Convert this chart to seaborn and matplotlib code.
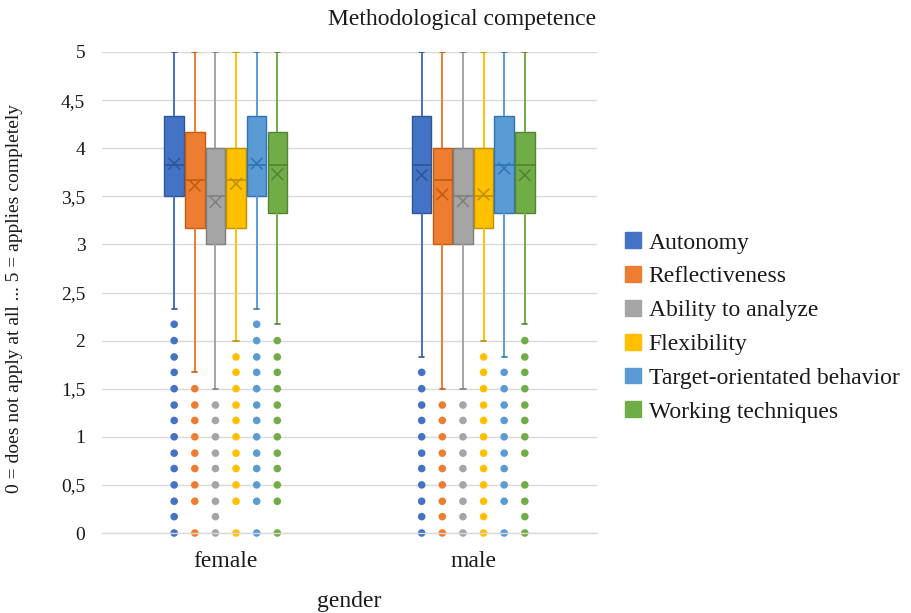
import numpy as np
import pandas as pd
import matplotlib
matplotlib.use("Agg")
import matplotlib.pyplot as plt
import seaborn as sns
from matplotlib.patches import Patch

# ---------------- data ----------------
genders = ["female", "male"]
competences = ["Autonomy", "Reflectiveness", "Ability to analyze", "Flexibility",
               "Target-orientated behavior", "Working techniques"]
colors = ["#4472C4", "#ED7D31", "#A5A5A5", "#FFC000", "#5B9BD5", "#70AD47"]
darks = ["#2F5597", "#C55A11", "#7F7F7F", "#BF9000", "#2E75B6", "#548235"]

# five-number summaries per competence (lower whisker, Q1, median, Q3, upper whisker)
female_lower = [2.33, 1.67, 1.5, 2.0, 2.33, 2.17]
female_q1 = [3.5, 3.17, 3.0, 3.17, 3.5, 3.33]
female_median = [3.83, 3.67, 3.5, 3.67, 3.83, 3.83]
female_q3 = [4.33, 4.17, 4.0, 4.0, 4.33, 4.17]
female_upper = [5, 5, 5, 5, 5, 5]
female_mean = [3.84, 3.61, 3.44, 3.63, 3.84, 3.73]

male_lower = [1.83, 1.5, 1.5, 2.0, 1.83, 2.17]
male_q1 = [3.33, 3.0, 3.0, 3.17, 3.33, 3.33]
male_median = [3.83, 3.67, 3.5, 3.5, 3.83, 3.83]
male_q3 = [4.33, 4.0, 4.0, 4.0, 4.33, 4.17]
male_upper = [5, 5, 5, 5, 5, 5]
male_mean = [3.72, 3.52, 3.45, 3.52, 3.79, 3.72]

female_outliers = [
    [2.17, 2.0, 1.83, 1.67, 1.5, 1.33, 1.17, 1.0, 0.83, 0.67, 0.5, 0.33, 0.17, 0.0],
    [1.5, 1.33, 1.17, 1.0, 0.83, 0.67, 0.5, 0.33, 0.0],
    [1.33, 1.17, 1.0, 0.83, 0.67, 0.5, 0.33, 0.17, 0.0],
    [1.83, 1.67, 1.5, 1.33, 1.17, 1.0, 0.83, 0.67, 0.5, 0.33, 0.0],
    [2.17, 2.0, 1.83, 1.67, 1.5, 1.33, 1.17, 1.0, 0.83, 0.67, 0.5, 0.33, 0.0],
    [2.0, 1.83, 1.67, 1.5, 1.33, 1.17, 1.0, 0.83, 0.67, 0.5, 0.33, 0.0],
]
male_outliers = [
    [1.67, 1.5, 1.33, 1.17, 1.0, 0.83, 0.67, 0.5, 0.33, 0.17, 0.0],
    [1.33, 1.17, 1.0, 0.83, 0.67, 0.5, 0.33, 0.17, 0.0],
    [1.33, 1.17, 1.0, 0.83, 0.67, 0.5, 0.33, 0.17, 0.0],
    [1.83, 1.67, 1.5, 1.33, 1.17, 1.0, 0.83, 0.67, 0.5, 0.33, 0.17, 0.0],
    [1.67, 1.5, 1.33, 1.17, 1.0, 0.83, 0.67, 0.5, 0.33, 0.0],
    [2.0, 1.83, 1.67, 1.5, 1.33, 1.17, 1.0, 0.83, 0.5, 0.33, 0.17, 0.0],
]

y_ticks = [0, 0.5, 1, 1.5, 2, 2.5, 3, 3.5, 4, 4.5, 5]
y_ticklabels = ["0", "0,5", "1", "1,5", "2", "2,5", "3", "3,5", "4", "4,5", "5"]

# ---------------- tables ----------------
summ = {"female": [female_lower, female_q1, female_median, female_q3, female_upper],
        "male": [male_lower, male_q1, male_median, male_q3, male_upper]}
rows = []
for g in genders:
    for j, c in enumerate(competences):
        for arr in summ[g]:
            rows.append({"gender": g, "competence": c, "value": arr[j]})
box_df = pd.DataFrame(rows)

BOX_W = 0.5
n_h = len(competences)


def dodge_pos(gi, j):
    return gi + (j - (n_h - 1) / 2) * BOX_W / n_h


orows = []
for gi, (g, outs) in enumerate(zip(genders, [female_outliers, male_outliers])):
    for j, c in enumerate(competences):
        for v in outs[j]:
            orows.append({"pos": dodge_pos(gi, j), "competence": c, "value": v})
out_df = pd.DataFrame(orows)

mrows = []
for gi, (g, means) in enumerate(zip(genders, [female_mean, male_mean])):
    for j, c in enumerate(competences):
        mrows.append({"pos": dodge_pos(gi, j), "competence": c, "value": means[j]})
mean_df = pd.DataFrame(mrows)

# ---------------- style ----------------
sns.set_style("white")
plt.rcParams["font.family"] = ["Liberation Serif", "DejaVu Serif"]
TXT = "#1a1a1a"

fig = plt.figure(figsize=(9.11, 6.13), dpi=100)
ax = fig.add_axes([102 / 911, 1 - 533 / 613, 495 / 911, 481 / 613])

pal = dict(zip(competences, colors))
pal_dark = dict(zip(competences, darks))

for j, c in enumerate(competences):
    sub = box_df[box_df["competence"] == c]
    sns.boxplot(data=sub, x="gender", y="value", hue="competence",
                order=genders, hue_order=competences, palette=pal,
                saturation=1, dodge=True, width=BOX_W, gap=0.06, whis=(0, 100),
                showfliers=False, linecolor=darks[j], linewidth=1.0,
                whiskerprops=dict(color=colors[j], linewidth=1.4),
                capprops=dict(color=darks[j], linewidth=1.2),
                medianprops=dict(color=darks[j], linewidth=1.2),
                legend=False, ax=ax)

# shorten caps
cw = BOX_W / n_h * 0.25
for ln in ax.lines:
    xd = np.asarray(ln.get_xdata(), dtype=float)
    yd = np.asarray(ln.get_ydata(), dtype=float)
    if len(xd) == 2 and xd[0] != xd[1] and yd[0] == yd[1]:
        L = abs(xd[1] - xd[0])
        if L < 0.6 * BOX_W / n_h:
            m = xd.mean()
            ln.set_xdata([m - cw / 2, m + cw / 2])

sns.scatterplot(data=out_df, x="pos", y="value", hue="competence", palette=pal,
                hue_order=competences, s=30, linewidth=0, legend=False,
                ax=ax, zorder=3, clip_on=False)
sns.scatterplot(data=mean_df, x="pos", y="value", hue="competence", palette=pal_dark,
                hue_order=competences, marker="x", s=70, linewidth=1.1,
                legend=False, ax=ax, zorder=4)

ax.set_xlim(-0.5, 1.5)
ax.set_ylim(0, 5)
ax.set_xticks([0, 1])
ax.set_xticklabels(genders, fontsize=17, color=TXT)
ax.set_yticks(y_ticks)
ax.set_yticklabels(y_ticklabels, fontsize=14, color=TXT)
ax.tick_params(axis="both", length=0)
ax.tick_params(axis="y", pad=12)
ax.tick_params(axis="x", pad=13)
ax.set_xlabel("")
ax.set_ylabel("")
ax.grid(axis="y", color="#D9D9D9", linewidth=1.0, zorder=0)
ax.set_axisbelow(True)
for s in ["left", "right", "top"]:
    ax.spines[s].set_visible(False)
ax.spines["bottom"].set_color("#D9D9D9")
ax.spines["bottom"].set_linewidth(1.0)
ax.spines["bottom"].set_zorder(5)

fig.text(462 / 911, 1 - 20 / 613, "Methodological competence", fontsize=17,
         ha="center", va="center", color=TXT)
fig.text(15 / 911, 1 - 299 / 613, "0 = does not apply at all ... 5 = applies completely",
         fontsize=14, rotation=90, ha="center", va="center", color=TXT)
fig.text(349.5 / 911, 1 - 601 / 613, "gender", fontsize=17, ha="center", va="center",
         color=TXT)

handles = [Patch(facecolor=col, edgecolor=col) for col in colors]
fig.legend(handles, competences, loc="center left",
           bbox_to_anchor=(625 / 911, 1 - 327.5 / 613), frameon=False,
           fontsize=17, handlelength=0.66, handleheight=0.66,
           handletextpad=0.35, labelspacing=0.53, borderpad=0, borderaxespad=0,
           labelcolor=TXT)

fig.savefig("out.png", dpi=100)
